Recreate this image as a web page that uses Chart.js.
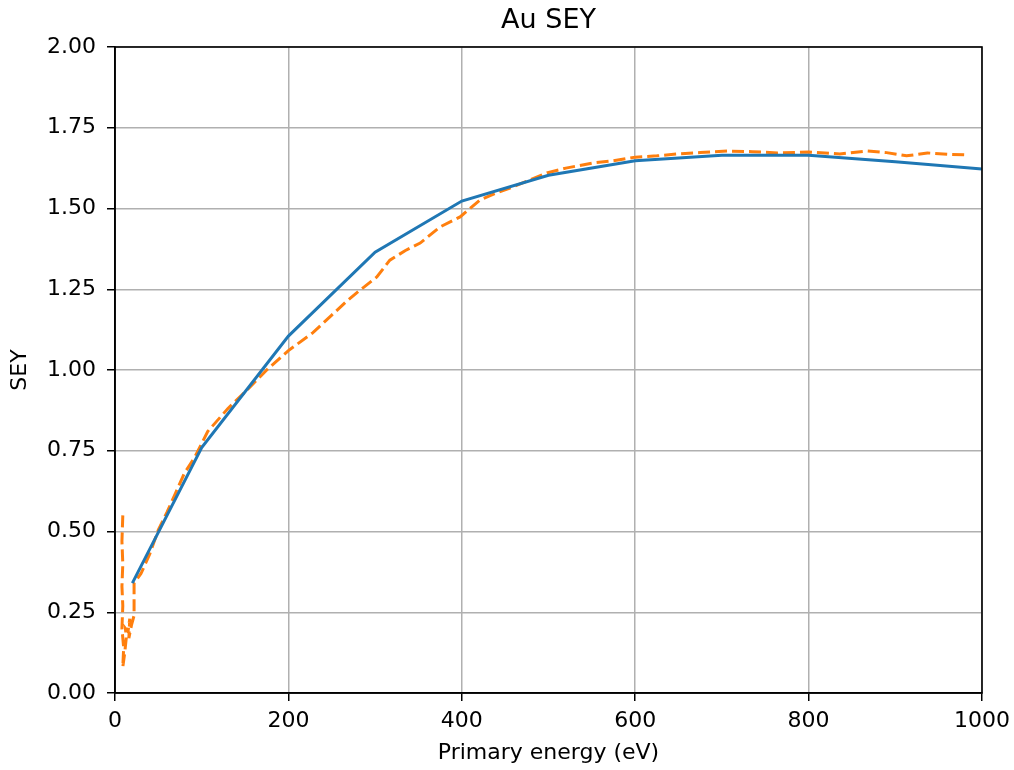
<!DOCTYPE html>
<html>
<head>
<meta charset="utf-8">
<script src="https://cdn.jsdelivr.net/npm/chart.js@4"></script>
<style>
  body { margin: 0; background: #fff; }
  #wrap { width: 1014px; height: 770px; }
</style>
</head>
<body>
<div id="wrap"><canvas id="grafico" width="1014" height="770"></canvas></div>
<script>
// curva modelo (linha continua)
const energiaModelo = [20, 100, 200, 300, 400, 500, 600, 700, 800, 900, 1000];
const seyModelo = [0.34, 0.76, 1.105, 1.365, 1.523, 1.603, 1.648, 1.665, 1.665, 1.645, 1.622];

// medida (tracejada) - inicio ruidoso em baixa energia
const energiaMedida = [9, 8, 9, 8, 9, 8, 10, 9, 11, 13, 12, 15, 17, 16, 19, 22, 22,
  30, 40, 50, 60, 70, 80, 92, 107, 130, 153, 175, 200, 228, 250, 268, 283, 302, 317,
  335, 352, 375, 398, 421, 440, 459, 480, 498, 520, 551, 575, 600, 625, 648, 675, 706,
  735, 764, 800, 836, 867, 890, 913, 937, 960, 980];
const seyMedida = [0.55, 0.47, 0.40, 0.33, 0.27, 0.20, 0.14, 0.08, 0.12, 0.17, 0.20, 0.19, 0.23, 0.17, 0.21, 0.24, 0.34,
  0.37, 0.43, 0.505, 0.56, 0.62, 0.68, 0.73, 0.81, 0.88, 0.94, 1.0, 1.06, 1.115, 1.17, 1.215, 1.248, 1.288, 1.34,
  1.37, 1.393, 1.443, 1.474, 1.526, 1.548, 1.567, 1.59, 1.61, 1.625, 1.641, 1.648, 1.659, 1.663, 1.669, 1.673, 1.678,
  1.676, 1.672, 1.675, 1.669, 1.678, 1.673, 1.663, 1.672, 1.668, 1.666];

const xTicks = [0, 200, 400, 600, 800, 1000];
const yTicks = [0, 0.25, 0.5, 0.75, 1.0, 1.25, 1.5, 1.75, 2.0];
const titulo = 'Au SEY';

const fonte = 'DejaVu Sans';
Chart.defaults.font.family = fonte;
Chart.defaults.color = '#262626';

// moldura preta + titulo centrado sobre a area do grafico
const moldura = {
  id: 'moldura',
  afterDatasetsDraw(chart) {
    const { ctx, chartArea: a } = chart;
    ctx.save();
    ctx.strokeStyle = '#000';
    ctx.lineWidth = 1.6;
    ctx.strokeRect(a.left, a.top, a.right - a.left, a.bottom - a.top);
    ctx.fillStyle = '#000';
    ctx.font = '27px "DejaVu Sans"';
    ctx.textAlign = 'center';
    ctx.textBaseline = 'middle';
    ctx.fillText(titulo, (a.left + a.right) / 2, 21);
    ctx.restore();
  }
};

const pares = (xs, ys) => xs.map((x, i) => ({ x: x, y: ys[i] }));

new Chart(document.getElementById('grafico'), {
  type: 'line',
  data: {
    datasets: [{
      data: pares(energiaModelo, seyModelo),
      borderColor: '#1f77b4',
      borderWidth: 3,
      pointRadius: 0,
      tension: 0
    }, {
      data: pares(energiaMedida, seyMedida),
      borderColor: '#ff7f0e',
      borderWidth: 3,
      borderDash: [12, 5],
      pointRadius: 0,
      tension: 0
    }]
  },
  options: {
    responsive: false,
    devicePixelRatio: 1,
    animation: false,
    layout: { padding: { left: 0, right: 32, top: 47, bottom: 0 } },
    plugins: {
      legend: { display: false },
      tooltip: { enabled: false },
      title: { display: false }
    },
    scales: {
      x: {
        type: 'linear',
        min: 0, max: 1000,
        afterBuildTicks: s => { s.ticks = xTicks.map(v => ({ value: v })); },
        afterFit: s => { s.height = 77; s.paddingLeft = 0; s.paddingRight = 0; },
        grid: { color: '#b0b0b0', tickColor: '#000', tickLength: 8, lineWidth: 1.5, tickWidth: 1.5 },
        border: { color: '#000', width: 1.6 },
        ticks: { font: { size: 22 }, color: '#000', padding: 7, maxRotation: 0, callback: v => String(v) },
        title: { display: true, text: 'Primary energy (eV)', font: { size: 22 }, color: '#000', padding: { top: 0, bottom: 4 } }
      },
      y: {
        min: 0, max: 2,
        afterBuildTicks: s => { s.ticks = yTicks.map(v => ({ value: v })); },
        afterFit: s => { s.width = 115; s.paddingTop = 0; s.paddingBottom = 0; },
        grid: { color: '#b0b0b0', tickColor: '#000', tickLength: 8, lineWidth: 1.5, tickWidth: 1.5 },
        border: { color: '#000', width: 1.6 },
        ticks: { font: { size: 22 }, color: '#000', padding: 11, callback: v => v.toFixed(2) },
        title: { display: true, text: 'SEY', font: { size: 22 }, color: '#000', padding: { top: 7, bottom: 0 } }
      }
    }
  },
  plugins: [moldura]
});
</script>
</body>
</html>
